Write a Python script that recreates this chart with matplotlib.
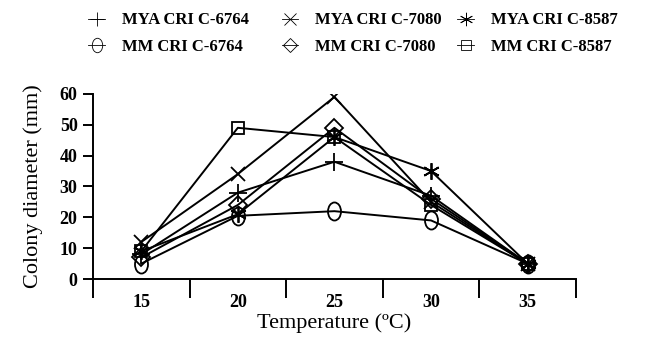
import matplotlib
matplotlib.use("Agg")
import matplotlib.pyplot as plt
from matplotlib.lines import Line2D
from matplotlib.path import Path
from matplotlib.transforms import Affine2D

temps = ["15", "20", "25", "30", "35"]
series_names = ["MYA CRI C-6764", "MYA CRI C-7080", "MYA CRI C-8587",
                "MM CRI C-6764", "MM CRI C-7080", "MM CRI C-8587"]
mya_6764 = [8, 28, 38, 27, 5]
mya_7080 = [12, 34, 59, 25, 5]
mya_8587 = [9, 21, 46, 35, 5]
mm_6764 = [5, 20.5, 22, 19, 5]
mm_7080 = [7, 24, 49, 26, 5]
mm_8587 = [9, 49, 46, 24, 5]
values = [mya_6764, mya_7080, mya_8587, mm_6764, mm_7080, mm_8587]

ellipse = Path.unit_circle().transformed(Affine2D().scale(0.72, 1.0))
markers = ["+", "x", (6, 2, 0), ellipse, "D", "s"]
msizes = [13, 10, 12, 13, 9, 9]

plt.rcParams['font.family'] = ['Liberation Serif', 'DejaVu Serif']
fig = plt.figure(figsize=(6.45, 3.45), dpi=100)
ax = fig.add_axes([0.144, 0.191, 0.749, 0.537])
xs = list(range(len(temps)))
handles = []
for name, v, m, s in zip(series_names, values, markers, msizes):
    ax.plot(xs, v, color='black', lw=1.4, marker=m, ms=s,
            mfc='none', mec='black', mew=1.3)
    handles.append(Line2D([0], [0], color='black', lw=0.6, marker=m,
                          ms=s * 0.8, mfc='none', mec='black', mew=0.6,
                          label=name))

ax.set_xlim(-0.5, len(temps) - 0.5)
ax.set_ylim(0, 60)
ax.set_yticks(range(0, 61, 10))
ax.set_xticks(xs)
ax.set_xticklabels(temps, fontweight='bold', fontsize=13)
ax.set_xticks([i + 0.5 for i in range(-1, len(temps))], minor=True)
ax.tick_params(axis='x', which='major', length=0, pad=11)
ax.tick_params(axis='x', which='minor', direction='out', length=14, width=1.4)
ax.tick_params(axis='y', direction='out', length=7, width=1.4, labelsize=13, pad=4)
for t in ax.get_yticklabels():
    t.set_fontweight('bold')
for sp in ['top', 'right']:
    ax.spines[sp].set_visible(False)
for sp in ['left', 'bottom']:
    ax.spines[sp].set_linewidth(1.4)

ax.set_ylabel("Colony diameter (mm)", fontsize=16, labelpad=12)
ax.set_xlabel("Temperature (\u00baC)", fontsize=16, labelpad=1)

col_x = [0.124, 0.424, 0.696]
for c in range(3):
    leg = fig.legend(handles=[handles[c], handles[c + 3]], ncol=1,
                     loc='upper left', bbox_to_anchor=(col_x[c], 0.988),
                     frameon=False, borderpad=0,
                     prop={'weight': 'bold', 'size': 12}, handlelength=1.0,
                     handletextpad=1.0, labelspacing=0.65)

fig.savefig("out.png", dpi=100)
